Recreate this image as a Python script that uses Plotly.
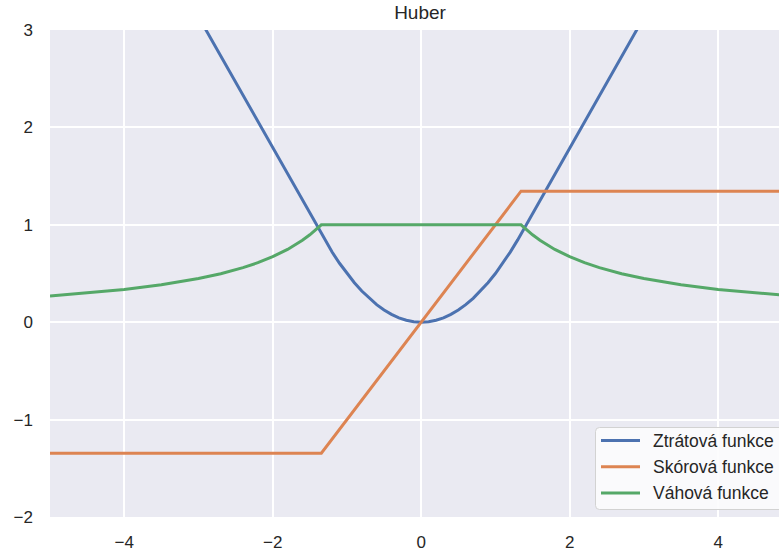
import plotly.graph_objects as go

# Huber function family (tuning constant about 1.345), values sampled along x
loss_x = [-5.0, -3.0, -2.0, -1.6, -1.5, -1.4, -1.345, -1.3, -1.2, -1.1, -1.0, -0.9, -0.8,
          -0.7, -0.6, -0.5, -0.4, -0.3, -0.2, -0.1, 0.0, 0.1, 0.2, 0.3, 0.4, 0.5, 0.6,
          0.7, 0.8, 0.9, 1.0, 1.1, 1.2, 1.3, 1.345, 1.4, 1.5, 1.6, 2.0, 3.0, 5.0]
loss_y = [5.82, 3.13, 1.786, 1.247, 1.113, 0.978, 0.905, 0.845, 0.72, 0.605, 0.5, 0.405,
          0.32, 0.245, 0.18, 0.125, 0.08, 0.045, 0.02, 0.005, 0.0, 0.005, 0.02, 0.045,
          0.08, 0.125, 0.18, 0.245, 0.32, 0.405, 0.5, 0.605, 0.72, 0.845, 0.905, 0.978,
          1.113, 1.247, 1.786, 3.13, 5.82]

score_x = [-5.0, -1.345, 1.345, 5.0]
score_y = [-1.345, -1.345, 1.345, 1.345]

weight_x = [-5.0, -4.5, -4.0, -3.5, -3.0, -2.7, -2.4, -2.2, -2.0, -1.8, -1.7, -1.6, -1.5,
            -1.4, -1.345, 1.345, 1.4, 1.5, 1.6, 1.7, 1.8, 2.0, 2.2, 2.4, 2.7, 3.0, 3.5,
            4.0, 4.5, 5.0]
weight_y = [0.269, 0.299, 0.336, 0.384, 0.448, 0.498, 0.560, 0.611, 0.673, 0.747, 0.791,
            0.841, 0.897, 0.961, 1.0, 1.0, 0.961, 0.897, 0.841, 0.791, 0.747, 0.673,
            0.611, 0.560, 0.498, 0.448, 0.384, 0.336, 0.299, 0.269]

series_names = ["Ztrátová funkce", "Skórová funkce", "Váhová funkce"]
x_ticks = [-4, -2, 0, 2, 4]
y_ticks = [-2, -1, 0, 1, 2, 3]

COLORS = ["#4C72B0", "#DD8452", "#55A868"]
FONT = "Liberation Sans, Arial, sans-serif"
TEXT = "#262626"
LW = 3

# plot area in pixels, used to place the hand-drawn legend
L, R, T, B = 50, 779, 30, 517


def px_x(p):
    return (p - L) / (R - L)


def px_y(p):
    return (B - p) / (B - T)


fig = go.Figure()
for xs, ys, name, color in zip([loss_x, score_x, weight_x], [loss_y, score_y, weight_y],
                               series_names, COLORS):
    fig.add_trace(go.Scatter(x=xs, y=ys, mode="lines", name=name,
                             line=dict(color=color, width=LW), showlegend=False))

# legend frame (rounded box running off the right edge)
x0, x1, y0, y1, r = 595.5, 800, 427.5, 509.5, 4
path = (f"M {px_x(x0 + r)},{px_y(y0)} L {px_x(x1)},{px_y(y0)} L {px_x(x1)},{px_y(y1)} "
        f"L {px_x(x0 + r)},{px_y(y1)} Q {px_x(x0)},{px_y(y1)} {px_x(x0)},{px_y(y1 - r)} "
        f"L {px_x(x0)},{px_y(y0 + r)} Q {px_x(x0)},{px_y(y0)} {px_x(x0 + r)},{px_y(y0)} Z")
shapes = [dict(type="path", path=path, xref="paper", yref="paper", layer="above",
               fillcolor="rgba(252,252,253,0.88)", line=dict(color="#D2D2D2", width=1))]
annotations = []
for i, (name, color) in enumerate(zip(series_names, COLORS)):
    yc = 440.5 + i * 26.3
    shapes.append(dict(type="line", xref="paper", yref="paper", layer="above",
                       x0=px_x(601), x1=px_x(640), y0=px_y(yc), y1=px_y(yc),
                       line=dict(color=color, width=LW)))
    annotations.append(dict(text=name, xref="paper", yref="paper", x=px_x(651),
                            y=px_y(yc), xanchor="left", yanchor="middle", showarrow=False,
                            font=dict(family=FONT, size=17.5, color=TEXT)))

fig.update_layout(
    width=779, height=552,
    margin=dict(l=L, r=779 - R, t=T, b=552 - B, autoexpand=False),
    paper_bgcolor="white",
    plot_bgcolor="#EAEAF2",
    font=dict(family=FONT, size=17, color=TEXT),
    title=dict(text="Huber", x=px_x(420), xref="paper", xanchor="center",
               y=1 - 12.5 / 552, yref="container", yanchor="middle",
               font=dict(family=FONT, size=19, color=TEXT)),
    xaxis=dict(range=[-5, 4.82], tickvals=x_ticks, showgrid=True, gridcolor="white",
               gridwidth=1.7, zeroline=False, showline=False, ticks="",
               tickfont=dict(size=17), ticklabelstandoff=13),
    yaxis=dict(range=[-2, 3], tickvals=y_ticks, showgrid=True, gridcolor="white",
               gridwidth=1.7, zeroline=False, showline=False, ticks="",
               tickfont=dict(size=17), ticklabelstandoff=16),
    shapes=shapes,
    annotations=annotations,
    showlegend=False,
)

fig.write_html("out.html")
